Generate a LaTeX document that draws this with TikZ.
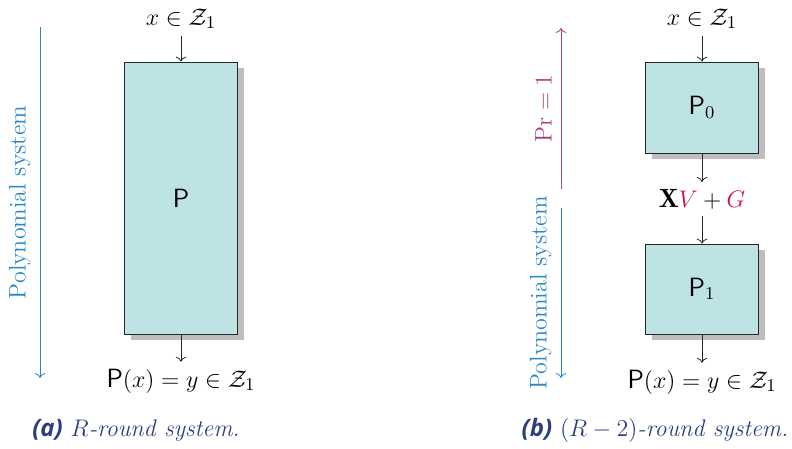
\documentclass[tikz,border=0pt]{standalone}
\usepackage{amsmath}
\usepackage{amssymb}
\usepackage{fontspec}
\newfontfamily\capsans{Open Sans}
\usepackage{tikz}
\usetikzlibrary{arrows.meta, positioning, shadows}

\definecolor{boxcyan}{HTML}{BDE3E5}
\definecolor{shadowgray}{HTML}{BEBEBE}
\definecolor{polyblue}{HTML}{2A88C8}
\definecolor{prmagenta}{HTML}{A84080}
\definecolor{keyred}{HTML}{D0104C}
\definecolor{capblue}{HTML}{2C3E7E}

\newcommand{\mathsize}{\fontsize{13.2}{16}\selectfont}

\tikzset{
    roundbox/.style={draw=black!85, fill=boxcyan, minimum width=56.5pt, inner sep=0pt,
        font=\mathsize\sffamily,
        drop shadow={shadow xshift=3pt, shadow yshift=-3pt, fill=shadowgray, opacity=1}},
    flow/.style={->, black!85},
    polyline/.style={->, polyblue},
    prline/.style={->, prmagenta},
    sidelabel/.style={midway, rotate=90, anchor=south, inner sep=4.5pt, font=\large}
}

\begin{document}
\begin{tikzpicture}[x=0.5pt, y=-0.5pt]
        \useasboundingbox (0,0) rectangle (792,449);

        % (a) R-round system
        \node[font=\mathsize] (inA) at (181,19) {$x \in \mathcal{Z}_1$};
        \node[roundbox, minimum height=136pt] (boxP) at (181,198) {P};
        \node[font=\mathsize] (outA) at (181,381) {$\mathsf{P}(x) = y \in \mathcal{Z}_1$};
        \draw[flow] (inA) -- (boxP);
        \draw[flow] (boxP) -- (outA);

        \coordinate (polyTopA) at (40,27);
        \coordinate (polyBotA) at (40,378);
        \draw[polyline] (polyTopA) -- (polyBotA)
            node[sidelabel, text=polyblue] (polyA) {Polynomial system};

        \node[text=capblue, font=\large] (capA) at (136,430)
            {{\capsans\bfseries\itshape (a)}\ \textit{$R$-round system.}};

        % (b) (R-2)-round system
        \node[font=\mathsize] (inB) at (702,19) {$x \in \mathcal{Z}_1$};
        \node[roundbox, minimum height=45.5pt] (boxP0) at (702,107.5) {P$_0$};
        \node[font=\mathsize] (mask) at (702,199) {$\mathbf{X}\textcolor{keyred}{V} + \textcolor{keyred}{G}$};
        \node[roundbox, minimum height=45pt] (boxP1) at (702,289) {P$_1$};
        \node[font=\mathsize] (outB) at (702,382) {$\mathsf{P}(x) = y \in \mathcal{Z}_1$};
        \draw[flow] (inB) -- (boxP0);
        \draw[flow] (boxP0) -- (mask);
        \draw[flow] (mask) -- (boxP1);
        \draw[flow] (boxP1) -- (outB);

        \coordinate (prBot) at (561,189);
        \coordinate (prTop) at (561,28);
        \draw[prline] (prBot) -- (prTop)
            node[sidelabel, text=prmagenta] (prB) {$\mathrm{Pr} = 1$};

        \coordinate (polyTopB) at (561,208);
        \coordinate (polyBotB) at (561,378);
        \draw[polyline] (polyTopB) -- (polyBotB)
            node[sidelabel, text=polyblue] (polyB) {Polynomial system};

        \node[text=capblue, font=\large] (capB) at (655,430)
            {{\capsans\bfseries\itshape (b)}\ \textit{$(R-2)$-round system.}};
\end{tikzpicture}
\end{document}
